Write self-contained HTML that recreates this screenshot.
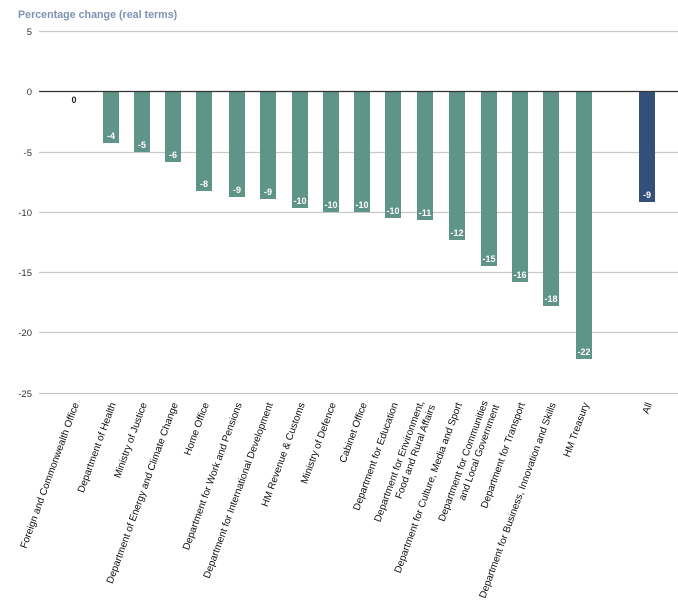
<!DOCTYPE html>
<html><head><meta charset="utf-8"><style>
html,body{margin:0;padding:0;background:#fff;}
svg{display:block;font-family:"Liberation Sans",Arial,sans-serif;}
</style></head><body>
<svg width="678" height="605" viewBox="0 0 678 605">
<text x="18" y="18" font-size="10.7" font-weight="bold" fill="#7c93b4">Percentage change (real terms)</text>
<g stroke="#c8c8c8" stroke-width="1.2">
<line x1="39" x2="678" y1="31.5" y2="31.5"/>
<line x1="39" x2="678" y1="152.5" y2="152.5"/>
<line x1="39" x2="678" y1="212.5" y2="212.5"/>
<line x1="39" x2="678" y1="272.5" y2="272.5"/>
<line x1="39" x2="678" y1="332.5" y2="332.5"/>
<line x1="39" x2="678" y1="393.5" y2="393.5"/>
</g>
<g font-size="9.5" fill="#333" text-anchor="end">
<text x="32" y="35">5</text>
<text x="32" y="95">0</text>
<text x="32" y="156">-5</text>
<text x="32" y="216">-10</text>
<text x="32" y="276">-15</text>
<text x="32" y="336">-20</text>
<text x="32" y="397">-25</text>
</g>
<g fill="#5f9488">
<rect x="103" y="92" width="16" height="51"/>
<rect x="134" y="92" width="16" height="60"/>
<rect x="165" y="92" width="16" height="70"/>
<rect x="196" y="92" width="16" height="99"/>
<rect x="229" y="92" width="16" height="105"/>
<rect x="260" y="92" width="16" height="107"/>
<rect x="292" y="92" width="16" height="116"/>
<rect x="323" y="92" width="16" height="120"/>
<rect x="354" y="92" width="16" height="120"/>
<rect x="385" y="92" width="16" height="126"/>
<rect x="417" y="92" width="16" height="128"/>
<rect x="449" y="92" width="16" height="148"/>
<rect x="481" y="92" width="16" height="174"/>
<rect x="512" y="92" width="16" height="190"/>
<rect x="543" y="92" width="16" height="214"/>
<rect x="576" y="92" width="16" height="267"/>
</g>
<rect x="639" y="92" width="16" height="110" fill="#34507a"/>
<line x1="39" x2="678" y1="91.5" y2="91.5" stroke="#333" stroke-width="1.2"/>
<text x="74" y="103" font-size="9" font-weight="bold" fill="#222" text-anchor="middle">0</text>
<g font-size="9" font-weight="bold" fill="#fff" text-anchor="middle">
<text x="111" y="139">-4</text>
<text x="142" y="148">-5</text>
<text x="173" y="158">-6</text>
<text x="204" y="187">-8</text>
<text x="237" y="193">-9</text>
<text x="268" y="195">-9</text>
<text x="300" y="204">-10</text>
<text x="331" y="208">-10</text>
<text x="362" y="208">-10</text>
<text x="393" y="214">-10</text>
<text x="425" y="216">-11</text>
<text x="457" y="236">-12</text>
<text x="489" y="262">-15</text>
<text x="520" y="278">-16</text>
<text x="551" y="302">-18</text>
<text x="584" y="355">-22</text>
<text x="647" y="198">-9</text>
</g>
<g font-size="10" fill="#111" text-anchor="end">
<text transform="translate(79,404) rotate(-70)">Foreign and Commonwealth Office</text>
<text transform="translate(116,404) rotate(-70)">Department of Health</text>
<text transform="translate(147,404) rotate(-70)">Ministry of Justice</text>
<text transform="translate(178,404) rotate(-70)">Department of Energy and Climate Change</text>
<text transform="translate(209,404) rotate(-70)">Home Office</text>
<text transform="translate(242,404) rotate(-70)">Department for Work and Pensions</text>
<text transform="translate(273,404) rotate(-70)">Department for International Development</text>
<text transform="translate(305,404) rotate(-70)">HM Revenue &amp; Customs</text>
<text transform="translate(336,404) rotate(-70)">Ministry of Defence</text>
<text transform="translate(367,404) rotate(-70)">Cabinet Office</text>
<text transform="translate(398,404) rotate(-70)">Department for Education</text>
<text transform="translate(424,402) rotate(-70)">Department for Environment,<tspan x="0" dy="12">Food and Rural Affairs</tspan></text>
<text transform="translate(462,404) rotate(-70)">Department for Culture, Media and Sport</text>
<text transform="translate(488,402) rotate(-70)">Department for Communities<tspan x="0" dy="12">and Local Government</tspan></text>
<text transform="translate(525,404) rotate(-70)">Department for Transport</text>
<text transform="translate(556,404) rotate(-70)">Department for Business, Innovation and Skills</text>
<text transform="translate(589,404) rotate(-70)">HM Treasury</text>
<text transform="translate(652,404) rotate(-70)">All</text>
</g>
</svg>
</body></html>
